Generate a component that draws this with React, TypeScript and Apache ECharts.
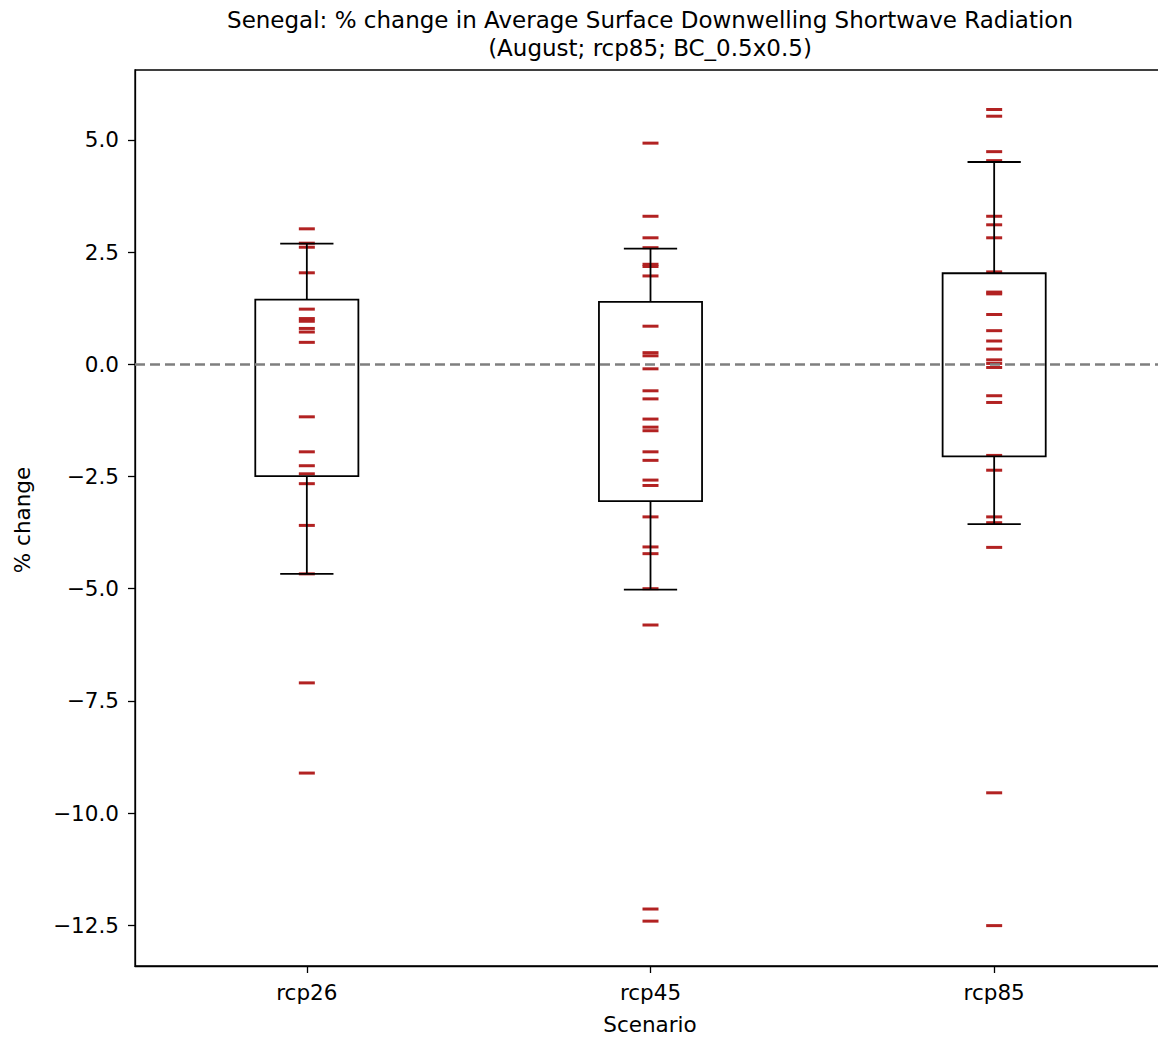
import React, { useEffect, useRef } from "react";
import * as echarts from "echarts";

const categories = ["rcp26", "rcp45", "rcp85"];

const rcp26Values = [3.02, 2.7, 2.61, 2.04, 1.23, 1.02, 0.96, 0.8, 0.72, 0.49, -1.17, -1.95, -2.26, -2.44, -2.66, -3.59, -4.67, -7.1, -9.11];
const rcp45Values = [4.93, 3.3, 2.82, 2.6, 2.23, 2.18, 1.97, 0.85, 0.26, 0.19, -0.1, -0.59, -0.77, -1.22, -1.4, -1.48, -1.95, -2.14, -2.58, -2.7, -3.4, -4.07, -4.22, -5.0, -5.81, -12.14, -12.41];
const rcp85Values = [5.68, 5.53, 4.74, 4.54, 3.3, 3.11, 2.82, 2.06, 1.61, 1.57, 1.11, 0.75, 0.52, 0.34, 0.1, 0.02, -0.07, -0.7, -0.85, -2.03, -2.36, -3.4, -3.53, -4.08, -9.55, -12.51];

const whiskerLow = [-4.67, -5.02, -3.56];
const q1 = [-2.49, -3.05, -2.05];
const q3 = [1.44, 1.39, 2.03];
const whiskerHigh = [2.69, 2.58, 4.51];

const yTicks = [-12.5, -10, -7.5, -5, -2.5, 0, 2.5, 5];

const titleLines = [
  "Senegal: % change in Average Surface Downwelling Shortwave Radiation",
  "(August; rcp85; BC_0.5x0.5)",
];

const FONT = "DejaVu Sans";
const TICK_FS = 21.5;
const TITLE_FS = 23;

export default function App() {
  const ref = useRef<HTMLDivElement>(null);
  useEffect(() => {
    if (!ref.current) return;
    const chart = echarts.init(ref.current, null, { renderer: "svg" });
    const allValues = [rcp26Values, rcp45Values, rcp85Values];
    const scatterData: any[] = [];
    allValues.forEach((vals, i) => {
      vals.forEach((v) => scatterData.push([categories[i], v]));
    });
    const boxData = categories.map((c, i) => [i, whiskerLow[i], q1[i], q3[i], whiskerHigh[i]]);

    const fmt = (v: number) => (v < 0 ? "\u2212" : "") + Math.abs(v).toFixed(1);

    chart.setOption({
      animation: false,
      backgroundColor: "#fff",
      textStyle: { fontFamily: FONT },
      grid: {
        left: 135,
        top: 70,
        right: 4,
        bottom: 72,
        show: true,
        borderColor: "#000",
        borderWidth: 1.3,
        containLabel: false,
      },
      xAxis: {
        type: "category",
        data: categories,
        boundaryGap: true,
        axisLine: { show: true, onZero: false, lineStyle: { color: "#000", width: 1.3 } },
        axisTick: { show: true, alignWithLabel: true, length: 7, lineStyle: { color: "#000", width: 1.3 } },
        axisLabel: { color: "#000", fontSize: TICK_FS, fontFamily: FONT, margin: 15 },
        splitLine: { show: false },
      },
      yAxis: {
        type: "value",
        min: -13.41,
        max: 6.56,
        axisLine: { show: true, onZero: false, lineStyle: { color: "#000", width: 1.3 } },
        axisTick: { show: true, customValues: yTicks, length: 7, lineStyle: { color: "#000", width: 1.3 } },
        axisLabel: { color: "#000", fontSize: TICK_FS, fontFamily: FONT, margin: 16, customValues: yTicks, formatter: fmt },
        splitLine: { show: false },
      },
      graphic: [
        {
          type: "text",
          x: 650,
          y: 20,
          style: { text: titleLines[0], fill: "#000", font: `${TITLE_FS}px '${FONT}'`, textAlign: "center", textVerticalAlign: "middle" },
        },
        {
          type: "text",
          x: 650,
          y: 48,
          style: { text: titleLines[1], fill: "#000", font: `${TITLE_FS}px '${FONT}'`, textAlign: "center", textVerticalAlign: "middle" },
        },
        {
          type: "text",
          x: 650,
          y: 1024,
          style: { text: "Scenario", fill: "#000", font: `${TICK_FS}px '${FONT}'`, textAlign: "center", textVerticalAlign: "middle" },
        },
        {
          type: "text",
          x: 22,
          y: 520,
          rotation: Math.PI / 2,
          style: { text: "% change", fill: "#000", font: `${TICK_FS}px '${FONT}'`, textAlign: "center", textVerticalAlign: "middle" },
        },
      ],
      series: [
        {
          type: "scatter",
          data: scatterData,
          symbol: "rect",
          symbolSize: [16, 3],
          itemStyle: { color: "#b22222", opacity: 1 },
          z: 2,
          silent: true,
        },
        {
          type: "custom",
          data: boxData,
          z: 3,
          silent: true,
          renderItem: (params: any, api: any) => {
            const idx = api.value(0);
            const pLow = api.coord([idx, api.value(1)]);
            const pQ1 = api.coord([idx, api.value(2)]);
            const pQ3 = api.coord([idx, api.value(3)]);
            const pHigh = api.coord([idx, api.value(4)]);
            const band = api.size([1, 0])[0];
            const bw = band * 0.3;
            const cw = band * 0.155;
            const x = pQ1[0];
            const st = { stroke: "#000", lineWidth: 1.8, fill: "none" };
            return {
              type: "group",
              children: [
                { type: "rect", shape: { x: x - bw / 2, y: pQ3[1], width: bw, height: pQ1[1] - pQ3[1] }, style: st },
                { type: "line", shape: { x1: x, y1: pQ3[1], x2: x, y2: pHigh[1] }, style: st },
                { type: "line", shape: { x1: x, y1: pQ1[1], x2: x, y2: pLow[1] }, style: st },
                { type: "line", shape: { x1: x - cw / 2, y1: pHigh[1], x2: x + cw / 2, y2: pHigh[1] }, style: st },
                { type: "line", shape: { x1: x - cw / 2, y1: pLow[1], x2: x + cw / 2, y2: pLow[1] }, style: st },
              ],
            };
          },
        },
        {
          type: "line",
          data: [],
          z: 5,
          silent: true,
          markLine: {
            silent: true,
            symbol: ["none", "none"],
            label: { show: false },
            lineStyle: { color: "#7f7f7f", width: 2.5, type: [10, 5], opacity: 1 },
            data: [{ yAxis: 0 }],
          },
        },
      ],
    });
    return () => chart.dispose();
  }, []);
  return (
    <div style={{ position: "fixed", left: 0, top: 0, width: 1158, height: 1038, overflow: "hidden", background: "#fff" }}>
      <div ref={ref} style={{ position: "absolute", left: 0, top: 0, width: 1170, height: 1038 }} />
    </div>
  );
}
